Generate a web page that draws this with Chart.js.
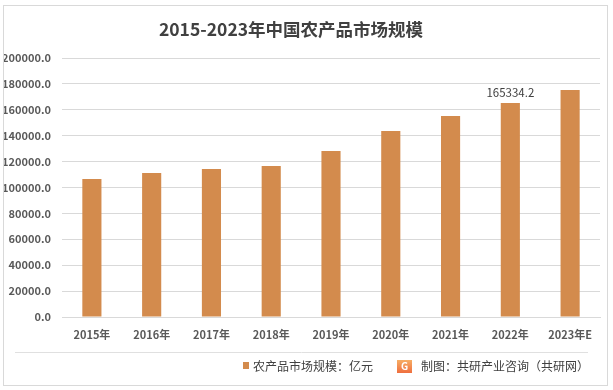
<!DOCTYPE html>
<html>
<head>
<meta charset="utf-8">
<script src="https://cdn.jsdelivr.net/npm/chart.js@4"></script>
<style>
  html, body { margin: 0; padding: 0; background: #fff; }
  #wrap { position: relative; width: 613px; height: 390px; }
</style>
</head>
<body>
<div id="wrap"><canvas id="chart" width="613" height="390"></canvas></div>
<script>
const years = ['2015年', '2016年', '2017年', '2018年', '2019年', '2020年', '2021年', '2022年', '2023年E'];
const marketSize = [106600, 111200, 114300, 116600, 128200, 143600, 155200, 165334.2, 175300];
const labeledIndex = 7; // only 2022 has a value label
const titleText = '2015-2023年中国农产品市场规模';
const legendText = '农产品市场规模：亿元';
const sourceText = '制图：共研产业咨询（共研网）';

const FONT = '"Noto Sans CJK SC", "Noto Sans", sans-serif';
const barColor = '#d38b4d';

// frame, title, value label and footer legend
const decor = {
  id: 'decor',
  afterDraw(chart) {
    const ctx = chart.ctx;
    ctx.save();
    // outer frame
    ctx.strokeStyle = '#d9d9d9';
    ctx.lineWidth = 1;
    ctx.strokeRect(3.5, 5.5, 604, 380);

    // title
    ctx.fillStyle = '#404040';
    ctx.font = 'bold 17.5px ' + FONT;
    ctx.textAlign = 'center';
    ctx.textBaseline = 'middle';
    ctx.fillText(titleText, 291, 29);

    // value label above the 2022 bar
    const bar = chart.getDatasetMeta(0).data[labeledIndex];
    ctx.font = '11.5px ' + FONT;
    ctx.fillStyle = '#404040';
    ctx.textBaseline = 'bottom';
    ctx.fillText(marketSize[labeledIndex].toFixed(1), bar.x, bar.y - 5);

    // separator above footer
    ctx.strokeStyle = '#e0e0e0';
    ctx.beginPath();
    ctx.moveTo(15, 352.5);
    ctx.lineTo(588, 352.5);
    ctx.stroke();

    // legend
    ctx.fillStyle = barColor;
    ctx.fillRect(243, 362, 6, 7);
    ctx.fillStyle = '#404040';
    ctx.font = '12px ' + FONT;
    ctx.textAlign = 'left';
    ctx.textBaseline = 'middle';
    ctx.fillText(legendText, 253, 366);

    // source logo
    const g = ctx.createLinearGradient(0, 359, 0, 374);
    g.addColorStop(0, '#f7b267');
    g.addColorStop(1, '#ee6a3c');
    ctx.fillStyle = g;
    ctx.fillRect(397, 360, 15, 13);
    ctx.fillStyle = '#fff';
    ctx.font = 'bold 10px ' + FONT;
    ctx.textAlign = 'center';
    ctx.fillText('G', 404.5, 366.5);

    ctx.fillStyle = '#404040';
    ctx.font = '12px ' + FONT;
    ctx.textAlign = 'left';
    ctx.fillText(sourceText, 421, 366);
    ctx.restore();
  }
};

new Chart(document.getElementById('chart'), {
  type: 'bar',
  data: {
    labels: years,
    datasets: [{
      label: legendText,
      data: marketSize,
      backgroundColor: barColor,
      barPercentage: 0.32,
      categoryPercentage: 1.0
    }]
  },
  options: {
    responsive: false,
    animation: false,
    layout: { padding: { top: 58, left: 4, right: 13, bottom: 43 } },
    plugins: {
      legend: { display: false },
      tooltip: { enabled: false }
    },
    scales: {
      x: {
        grid: { display: false, drawTicks: false },
        border: { display: true, color: '#d9d9d9' },
        ticks: { color: '#595959', font: { family: FONT, size: 11, weight: 'bold' }, padding: 11, maxRotation: 0 },
        afterFit(scale) { scale.height = 30; }
      },
      y: {
        min: 0,
        max: 200000,
        grid: { color: '#d9d9d9', drawTicks: false },
        border: { display: false },
        ticks: {
          stepSize: 20000,
          color: '#595959',
          font: { family: FONT, size: 11, weight: 'bold' },
          padding: 11,
          callback: v => v.toFixed(1)
        },
        afterFit(scale) { scale.width = 58; }
      }
    }
  },
  plugins: [decor]
});
</script>
</body>
</html>
